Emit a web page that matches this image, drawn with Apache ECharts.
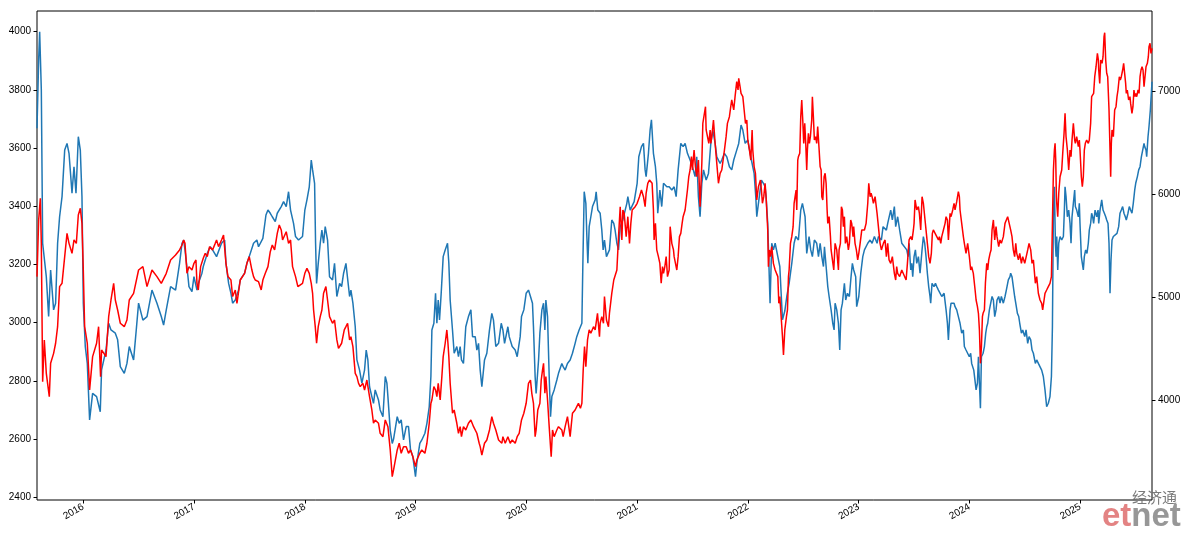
<!DOCTYPE html>
<html>
<head>
<meta charset="utf-8">
<script src="https://cdn.jsdelivr.net/npm/echarts@6/dist/echarts.min.js"></script>
<style>
html,body{margin:0;padding:0;background:#fff;}
#chart{width:1188px;height:535px;}
</style>
</head>
<body>
<div id="chart"></div>
<script>
// x values are dates expressed as decimal years
const yearTicks = [2016, 2017, 2018, 2019, 2020, 2021, 2022, 2023, 2024, 2025];
const leftTicks = [2400, 2600, 2800, 3000, 3200, 3400, 3600, 3800, 4000];
const rightTicks = [4000, 5000, 6000, 7000];

// blue series (left axis)
const blueT = [
2015.582,2015.597,2015.606,2015.621,2015.633,2015.666,2015.687,2015.705,2015.732,2015.750,2015.768,2015.786,2015.808,2015.832,2015.853,2015.871,2015.898,2015.916,2015.934,2015.955,2015.973,2015.988,
2016.000,2016.018,2016.036,2016.057,2016.084,2016.120,2016.153,2016.165,2016.205,2016.229,2016.250,2016.289,2016.310,2016.334,2016.370,2016.394,2016.415,2016.454,2016.478,2016.499,2016.538,2016.575,2016.620,2016.665,2016.704,2016.725,2016.749,2016.788,2016.833,2016.869,
2016.891,2016.906,2016.918,2016.945,2016.954,2016.981,2016.999,2017.026,2017.038,2017.071,2017.083,2017.119,2017.146,2017.167,2017.203,2017.236,2017.248,2017.276,2017.288,2017.312,2017.333,2017.348,2017.372,2017.402,2017.417,2017.456,2017.477,2017.498,2017.537,2017.567,2017.582,2017.621,2017.649,2017.667,2017.688,2017.706,2017.733,2017.751,2017.787,2017.808,2017.832,2017.853,2017.871,2017.898,2017.916,2017.943,2017.979,
2018.000,2018.019,2018.040,2018.058,2018.070,2018.088,2018.097,2018.106,2018.121,2018.139,2018.154,2018.169,
2018.184,2018.205,2018.223,2018.250,2018.268,2018.289,2018.314,2018.332,2018.350,2018.371,2018.386,2018.404,2018.416,2018.434,2018.455,2018.470,2018.494,2018.515,2018.539,2018.554,2018.569,2018.584,2018.605,2018.620,2018.635,2018.665,2018.680,2018.705,2018.726,2018.741,2018.750,2018.771,2018.789,2018.801,2018.834,2018.852,2018.870,2018.891,2018.915,2018.936,2018.954,2018.975,2018.999,
2019.011,2019.038,2019.056,2019.084,2019.102,2019.123,2019.138,2019.147,2019.165,2019.180,2019.192,2019.204,2019.216,2019.231,2019.249,2019.267,2019.288,2019.300,2019.312,2019.333,2019.348,2019.372,2019.387,2019.402,2019.414,2019.432,2019.453,2019.477,
2019.499,2019.514,2019.538,2019.553,2019.568,2019.583,2019.598,2019.622,2019.643,2019.667,2019.688,2019.703,2019.724,2019.749,2019.773,2019.788,2019.803,2019.833,2019.845,2019.872,2019.899,2019.917,2019.944,2019.956,2019.977,2019.998,
2020.019,2020.037,2020.055,2020.064,2020.079,2020.088,2020.110,2020.122,2020.140,2020.155,2020.167,2020.176,2020.191,2020.206,2020.218,2020.230,2020.251,2020.275,2020.290,2020.320,2020.332,2020.350,2020.371,2020.395,2020.416,2020.440,2020.455,2020.476,2020.501,2020.510,2020.522,2020.537,2020.546,2020.555,2020.567,2020.582,2020.597,2020.621,2020.630,2020.645,2020.666,2020.681,2020.693,2020.705,2020.723,2020.741,2020.750,2020.771,2020.789,
2020.801,2020.817,2020.832,2020.847,2020.871,2020.892,2020.907,2020.916,2020.937,2020.955,2020.973,
2021.000,2021.015,2021.039,2021.057,2021.072,2021.081,2021.102,2021.117,2021.129,2021.147,2021.165,2021.177,2021.186,2021.205,2021.222,2021.238,2021.250,2021.268,2021.289,2021.313,2021.334,2021.352,2021.370,2021.394,2021.415,2021.433,2021.454,2021.478,2021.499,2021.523,2021.538,2021.553,2021.568,2021.584,2021.599,2021.623,2021.644,2021.665,2021.683,2021.704,2021.719,2021.749,2021.764,2021.788,2021.809,2021.833,2021.854,2021.872,2021.899,2021.917,2021.938,2021.954,2021.975,2021.999,
2022.020,2022.038,2022.056,2022.071,2022.080,2022.095,
2022.122,2022.140,2022.155,2022.164,2022.179,2022.191,2022.200,2022.215,2022.230,2022.246,2022.270,2022.288,2022.300,2022.312,2022.333,2022.351,2022.372,2022.396,2022.417,2022.432,2022.456,2022.477,2022.492,2022.516,2022.531,2022.552,2022.567,2022.582,2022.600,2022.621,2022.637,2022.652,2022.667,2022.682,2022.691,2022.706,2022.721,2022.733,2022.751,2022.766,2022.778,2022.787,2022.802,2022.817,2022.829,2022.841,2022.853,2022.871,2022.883,2022.898,2022.916,2022.931,2022.943,2022.955,2022.973,2022.982,
2023.001,2023.019,2023.037,2023.052,2023.082,2023.103,2023.121,2023.142,2023.166,2023.178,2023.205,2023.220,2023.250,2023.262,2023.289,2023.304,2023.322,2023.334,2023.352,2023.370,2023.389,
2023.434,2023.446,2023.455,2023.470,2023.479,2023.488,2023.500,2023.512,2023.524,2023.539,2023.554,2023.572,2023.584,2023.596,2023.608,2023.620,2023.632,2023.644,2023.650,2023.662,2023.680,2023.693,2023.705,2023.720,2023.735,2023.750,2023.771,2023.789,2023.801,2023.810,2023.825,2023.834,2023.849,2023.861,2023.870,2023.885,2023.900,2023.915,2023.930,2023.945,2023.954,2023.969,2023.984,2023.999,
2024.011,2024.020,2024.039,2024.051,2024.060,2024.072,2024.081,2024.090,2024.099,2024.108,2024.123,2024.135,2024.147,2024.156,2024.165,2024.180,2024.192,2024.204,2024.216,2024.228,2024.240,2024.249,2024.264,2024.276,2024.288,2024.306,2024.321,2024.333,2024.351,2024.366,2024.372,2024.384,2024.396,2024.408,2024.418,2024.433,2024.445,2024.454,2024.469,2024.481,2024.499,2024.511,2024.526,2024.538,2024.553,2024.565,2024.577,2024.595,2024.607,2024.622,2024.637,2024.652,2024.667,2024.682,2024.697,2024.712,
2024.727,2024.740,2024.749,2024.758,2024.767,2024.776,2024.782,2024.788,2024.797,2024.806,2024.818,2024.833,2024.848,2024.857,2024.863,2024.872,2024.884,2024.896,2024.908,2024.917,2024.926,2024.938,2024.950,2024.956,2024.968,2024.983,2024.992,2024.998,
2025.010,2025.019,2025.028,2025.037,2025.049,2025.061,2025.073,2025.082,2025.094,2025.103,2025.112,2025.121,2025.134,2025.149,2025.161,2025.167,2025.179,2025.194,2025.206,2025.218,2025.230,2025.239,2025.251,2025.260,2025.269,2025.278,2025.287,2025.299,2025.314,2025.332,2025.347,2025.359,2025.371,2025.383,2025.395,2025.407,2025.416,2025.431,2025.443,2025.455,2025.467,2025.479,2025.492,2025.501,2025.516,2025.528,2025.540,2025.552,2025.564,2025.576,2025.582,2025.594,2025.600,2025.612,2025.621,2025.633,2025.642,2025.648
];
const blueV = [
3668,3903,4000,3800,3273,3158,3021,3181,3044,3067,3273,3364,3433,3593,3616,3582,3445,3536,3445,3639,3593,3433,
3067,2918,2860,2666,2757,2746,2694,2838,2906,2998,2975,2964,2941,2849,2826,2860,2918,2872,2975,3067,3009,3021,3112,3067,3021,2992,3044,3124,3112,3204,
3273,3284,3250,3158,3124,3107,3158,3112,3135,3170,3193,3238,3261,3250,3227,3261,3273,3284,3204,3135,3101,3067,3078,3112,3147,3170,3204,3227,3273,3284,3261,3290,3370,3387,3376,3364,3347,3376,3399,3416,3399,3450,3387,3341,3296,3284,3296,
3387,3422,3467,3559,3525,3479,3273,3135,3204,3273,3318,3273,
3330,3284,3158,3147,3204,3090,3135,3124,3170,3204,3204,3090,3112,3067,2986,2872,2837,2792,2837,2906,2872,2780,2746,2723,2769,2734,2700,2677,2815,2792,2746,2630,2585,2600,2677,2654,2666,2597,2643,2643,2563,2540,2471,
2517,2585,2597,2620,2654,2711,2815,2975,2998,3101,2998,3078,3009,3101,3227,3250,3273,3204,3078,2975,2895,2918,2883,2918,2872,2860,2986,3021,
3044,2952,2952,2906,2929,2837,2780,2872,2895,2975,3032,3009,2918,2929,2998,2975,2929,2986,2952,2918,2906,2883,2952,3021,3044,3101,
3112,3090,3067,2986,2815,2757,2872,2964,3044,3067,2975,3078,3021,2815,2677,2746,2769,2803,2826,2860,2849,2837,2860,2872,2895,2929,2952,2975,2998,3204,3450,3410,3296,3204,3330,3364,3399,3422,3450,3387,3376,3318,3250,3284,3227,3221,3250,3353,3341,
3318,3273,3250,3330,3353,3387,3410,3433,3387,3387,3416,
3479,3570,3605,3616,3525,3502,3582,3662,3697,3582,3536,3479,3376,3456,3399,3479,3479,3467,3467,3456,3467,3433,3525,3616,3605,3616,3582,3559,3536,3502,3570,3433,3364,3479,3525,3490,3513,3616,3662,3616,3570,3547,3559,3582,3570,3536,3525,3559,3593,3616,3679,3662,3616,3628,
3582,3547,3513,3433,3364,3410,
3490,3479,3467,3433,3341,3181,3067,3273,3250,3273,3227,3193,3101,3010,3040,3090,3135,3204,3273,3296,3284,3387,3410,3364,3238,3296,3250,3227,3284,3273,3227,3273,3227,3193,3261,3193,3124,3090,3044,2998,2975,3067,3044,2998,2906,3044,3067,3135,3078,3101,3090,3158,3204,3181,3158,3055,
3090,3170,3227,3250,3273,3284,3273,3296,3273,3296,3284,3330,3318,3341,3387,3353,3399,3330,3364,3318,3273,
3250,3227,3273,3181,3204,3158,3227,3250,3204,3227,3170,3250,3296,3273,3227,3170,3124,3090,3067,3135,3124,3135,3124,3112,3112,3090,3101,3044,2998,2941,3044,3067,3072,3067,3055,3044,3021,2998,2964,2975,2918,2906,2906,2883,
2895,2860,2837,2837,2769,2792,2883,2792,2706,2883,2895,2918,2964,2986,2998,3044,3067,3090,3078,3021,3044,3078,3090,3067,3090,3067,3090,3112,3147,3158,3170,3158,3124,3090,3067,3032,3021,2998,2964,2975,2952,2975,2929,2952,2941,2906,2895,2860,2872,2860,2860,2837,2815,2769,2711,2723,
2746,2815,2986,3387,3467,3273,3227,3296,3181,3273,3296,3284,3296,3387,3467,3433,3364,3387,3341,3273,3364,3410,3456,3399,3387,3364,3410,3341,
3227,3204,3181,3227,3250,3238,3273,3318,3341,3376,3364,3341,3387,3364,3387,3341,3387,3422,3387,3376,3364,3353,3341,3273,3101,3216,3284,3296,3296,3307,3330,3376,3387,3399,3376,3364,3353,3376,3399,3387,3376,3410,3456,3479,3502,3525,3536,3570,3593,3616,3605,3593,3570,3639,3674,3731,3788,3828
];

// red series (right axis)
const redT = [
2015.582,2015.597,2015.612,2015.621,2015.633,2015.648,2015.666,2015.693,2015.705,2015.732,2015.750,2015.768,2015.786,2015.808,2015.832,2015.853,2015.871,2015.898,2015.916,2015.937,2015.955,2015.973,2015.988,
2016.000,2016.012,2016.036,2016.057,2016.084,2016.120,2016.138,2016.156,2016.165,2016.205,2016.229,2016.250,2016.274,2016.289,2016.310,2016.334,2016.370,2016.394,2016.415,2016.454,2016.499,2016.538,2016.575,2016.620,2016.665,2016.704,2016.749,2016.788,2016.833,2016.869,
2016.891,2016.906,2016.918,2016.936,2016.954,2016.981,2016.999,2017.017,2017.026,2017.038,2017.059,2017.083,2017.101,2017.119,2017.140,2017.167,2017.191,2017.203,2017.221,2017.248,2017.266,2017.288,2017.306,2017.333,2017.348,2017.372,2017.387,2017.417,2017.456,2017.477,2017.498,2017.522,2017.537,2017.552,2017.582,2017.606,2017.621,2017.643,2017.667,2017.688,2017.706,2017.727,2017.751,2017.769,2017.787,2017.799,2017.832,2017.853,2017.871,2017.889,2017.916,2017.937,2017.955,2017.979,
2018.000,2018.019,2018.040,2018.058,2018.070,2018.079,2018.094,2018.106,2018.121,2018.139,2018.154,2018.169,
2018.190,2018.205,2018.223,2018.250,2018.268,2018.289,2018.304,2018.332,2018.356,2018.371,2018.386,2018.404,2018.416,2018.434,2018.455,2018.470,2018.485,2018.500,2018.524,2018.539,2018.560,2018.584,2018.605,2018.620,2018.635,2018.665,2018.680,2018.705,2018.726,2018.750,2018.771,2018.789,2018.801,2018.834,2018.852,2018.870,2018.891,2018.915,2018.936,2018.954,2018.975,2018.999,
2019.011,2019.038,2019.056,2019.084,2019.102,2019.123,2019.138,2019.147,2019.165,2019.180,2019.192,2019.204,2019.222,2019.237,2019.249,2019.267,2019.282,2019.292,2019.300,2019.312,2019.333,2019.348,2019.372,2019.387,2019.402,2019.414,2019.432,2019.453,2019.477,
2019.499,2019.523,2019.538,2019.553,2019.574,2019.583,2019.598,2019.622,2019.643,2019.667,2019.688,2019.703,2019.724,2019.749,2019.779,2019.788,2019.809,2019.833,2019.854,2019.872,2019.899,2019.917,2019.935,2019.956,2019.977,2019.998,
2020.019,2020.037,2020.049,2020.064,2020.079,2020.088,2020.103,2020.122,2020.134,2020.146,2020.155,2020.167,2020.176,2020.191,2020.206,2020.224,2020.236,2020.251,2020.275,2020.290,2020.320,2020.332,2020.350,2020.371,2020.395,2020.416,2020.440,2020.455,2020.470,2020.488,2020.501,2020.513,2020.525,2020.537,2020.552,2020.567,2020.582,2020.606,2020.621,2020.642,2020.660,2020.666,2020.681,2020.696,2020.705,2020.723,2020.741,2020.750,2020.771,2020.789,
2020.801,2020.817,2020.823,2020.832,2020.847,2020.862,2020.871,2020.883,2020.901,2020.916,2020.931,2020.943,2020.955,2020.973,2020.982,
2021.000,2021.021,2021.039,2021.057,2021.072,2021.081,2021.096,2021.111,2021.120,2021.135,2021.147,2021.153,2021.165,2021.177,2021.192,2021.205,2021.217,2021.229,2021.238,2021.250,2021.262,2021.274,2021.289,2021.298,2021.313,2021.328,2021.334,2021.346,2021.358,2021.370,2021.382,2021.394,2021.406,2021.415,2021.433,2021.454,2021.466,2021.478,2021.490,2021.499,2021.514,2021.526,2021.538,2021.553,2021.568,2021.584,2021.593,2021.608,2021.617,2021.623,2021.635,2021.647,2021.659,2021.665,2021.674,2021.689,2021.704,2021.719,2021.734,2021.749,2021.764,2021.788,2021.803,2021.815,2021.833,2021.845,2021.854,2021.872,2021.884,2021.899,2021.911,2021.917,2021.929,2021.938,2021.954,2021.966,2021.978,2021.990,2021.999,
2022.014,2022.026,2022.038,2022.044,2022.056,2022.068,2022.080,2022.095,
2022.113,2022.122,2022.131,2022.143,2022.155,2022.164,2022.179,2022.185,2022.194,2022.203,2022.215,2022.230,2022.246,2022.270,2022.279,2022.288,2022.300,2022.312,2022.321,2022.333,2022.348,2022.357,2022.366,2022.372,2022.384,2022.396,2022.408,2022.417,2022.426,2022.435,2022.441,2022.450,2022.456,2022.468,2022.477,2022.486,2022.495,2022.504,2022.513,2022.522,2022.531,2022.537,2022.546,2022.555,2022.564,2022.576,2022.582,2022.591,2022.600,2022.612,2022.621,2022.630,2022.643,2022.652,2022.661,2022.667,2022.676,2022.688,2022.697,2022.706,2022.715,2022.721,2022.733,2022.745,2022.751,2022.763,2022.775,2022.787,2022.802,2022.817,2022.823,2022.835,2022.844,2022.853,2022.862,2022.871,2022.880,2022.892,2022.907,2022.916,2022.928,2022.937,2022.949,2022.955,2022.967,2022.979,2022.991,
2023.001,2023.013,2023.028,2023.037,2023.052,2023.067,2023.082,2023.091,2023.103,2023.112,2023.121,2023.133,2023.148,2023.166,2023.178,2023.193,2023.205,2023.223,2023.238,2023.250,2023.262,2023.274,2023.289,2023.304,2023.322,2023.334,2023.343,2023.352,2023.370,2023.389,
2023.428,2023.440,2023.455,2023.470,2023.482,2023.494,2023.500,2023.509,2023.524,2023.539,2023.548,2023.560,2023.572,2023.584,2023.599,2023.614,2023.620,2023.632,2023.644,2023.656,2023.665,2023.674,2023.690,2023.705,2023.720,2023.729,2023.741,2023.750,2023.765,2023.780,2023.789,2023.801,2023.810,2023.825,2023.834,2023.849,2023.861,2023.870,2023.885,2023.900,2023.909,2023.915,2023.930,2023.945,2023.954,2023.969,2023.984,2023.999,
2024.011,2024.020,2024.035,2024.051,2024.060,2024.072,2024.081,2024.090,2024.099,2024.108,2024.117,2024.123,2024.135,2024.144,2024.156,2024.165,2024.174,2024.186,2024.195,2024.204,2024.216,2024.228,2024.240,2024.249,2024.264,2024.276,2024.288,2024.306,2024.321,2024.333,2024.345,2024.357,2024.372,2024.384,2024.396,2024.408,2024.418,2024.427,2024.442,2024.454,2024.469,2024.481,2024.499,2024.511,2024.526,2024.538,2024.553,2024.565,2024.577,2024.595,2024.607,2024.622,2024.637,2024.652,2024.661,2024.682,2024.697,2024.712,
2024.727,2024.740,2024.749,2024.758,2024.767,2024.773,2024.779,2024.785,2024.788,2024.797,2024.806,2024.818,2024.833,2024.842,2024.854,2024.863,2024.872,2024.884,2024.896,2024.908,2024.917,2024.926,2024.938,2024.950,2024.956,2024.968,2024.983,2024.992,2024.998,
2025.010,2025.019,2025.028,2025.037,2025.046,2025.058,2025.073,2025.082,2025.094,2025.103,2025.112,2025.121,2025.131,2025.143,2025.155,2025.164,2025.167,2025.176,2025.185,2025.197,2025.206,2025.215,2025.221,2025.230,2025.239,2025.248,2025.260,2025.269,2025.275,2025.281,2025.287,2025.299,2025.311,2025.323,2025.332,2025.341,2025.353,2025.362,2025.371,2025.383,2025.392,2025.401,2025.410,2025.416,2025.425,2025.437,2025.449,2025.455,2025.467,2025.476,2025.485,2025.494,2025.501,2025.510,2025.522,2025.531,2025.540,2025.549,2025.558,2025.567,2025.576,2025.582,2025.594,2025.606,2025.615,2025.621,2025.630,2025.639,2025.648
];
const redV = [
5198,5748,5958,5521,4178,4583,4259,4033,4356,4453,4551,4712,5101,5133,5392,5618,5521,5424,5554,5521,5796,5861,5715,
5262,4712,4551,4098,4421,4551,4712,4227,4486,4421,4809,4971,5133,4971,4874,4745,4712,4777,4971,5036,5262,5295,5101,5262,5198,5133,5230,5360,5408,5457,
5505,5554,5521,5230,5295,5262,5327,5360,5133,5068,5295,5376,5424,5392,5489,5457,5521,5554,5489,5554,5602,5327,5198,5165,5004,5068,4939,5165,5230,5327,5392,5262,5198,5165,5149,5068,5165,5230,5295,5440,5505,5457,5618,5699,5651,5554,5634,5521,5554,5295,5198,5101,5101,5133,
5230,5278,5230,5133,5036,4874,4712,4551,4712,4809,4874,5036,
5101,4971,4809,4745,4777,4583,4502,4551,4680,4712,4745,4583,4615,4518,4259,4227,4162,4130,4162,4097,4194,4033,3903,3774,3806,3774,3677,3644,3806,3741,3515,3256,3321,3515,3580,3483,3547,3547,3483,3515,3450,3353,
3418,3483,3515,3483,3580,3774,3968,4000,4130,4097,4033,4162,4000,4227,4421,4551,4680,4551,4421,4162,3871,3903,3774,3677,3741,3644,3741,3709,3774,
3806,3741,3741,3677,3580,3547,3466,3580,3612,3709,3838,3774,3709,3612,3580,3644,3580,3644,3580,3612,3580,3644,3677,3806,3871,3968,
4162,4194,4065,3968,3644,3709,3903,3968,4194,4292,4356,4065,4227,4000,3741,3450,3709,3644,3709,3741,3709,3644,3741,3838,3644,3871,3903,3936,3968,3919,3968,4292,4518,4324,4583,4680,4648,4712,4680,4842,4615,4745,4809,4745,5004,4777,4712,4842,5036,5165,
5165,5262,5392,5586,5877,5554,5845,5812,5586,5780,5521,5715,5845,5845,5877,
5910,5974,6039,5974,5877,6007,6104,6136,6120,6104,5845,5554,5715,5457,5392,5327,5133,5295,5230,5295,5392,5198,5262,5683,5521,5457,5392,5327,5262,5392,5586,5618,5715,5780,5845,6039,6168,6233,6363,6233,6427,6266,6168,6330,5877,6298,6686,6686,6848,6622,6557,6492,6622,6492,6557,6719,6492,6298,6104,6201,6233,6427,6557,6686,6751,6848,6913,6816,6945,7091,7010,7123,7042,6977,6945,6816,6686,6719,6524,
6427,6330,6622,6427,6266,6201,5942,6071,
6136,6039,5910,5974,6104,5974,5651,5295,5457,5392,5489,5327,5262,5198,4939,5004,4809,4615,4437,4680,4809,4874,5198,5262,5521,5586,5683,5910,5974,6039,5845,6330,6363,6395,6751,6913,6719,6492,6686,6492,6233,6427,6589,6492,6557,6719,6945,6751,6524,6557,6492,6654,6427,6266,6233,5974,5942,6168,6201,6104,5845,5715,5780,5586,5457,5360,5262,5521,5457,5262,5457,5521,5877,5845,5683,5780,5521,5586,5457,5521,5748,5715,5586,5683,5521,5457,5360,
5424,5521,5651,5667,5651,5715,5910,6104,5974,6007,5974,5910,5974,5812,5683,5521,5457,5521,5554,5392,5521,5360,5327,5392,5230,5165,5295,5230,5198,5262,
5165,5327,5554,5586,5554,5651,5715,5942,5845,5877,5812,5651,5974,5910,5748,5586,5521,5392,5327,5424,5618,5651,5618,5586,5554,5586,5521,5586,5651,5715,5780,5748,5554,5812,5780,5845,5910,5845,5926,6023,5974,5845,5715,5586,5521,5424,5521,5392,
5262,5295,5230,5068,4971,4906,4842,4680,4356,4518,4809,4842,4874,5133,5327,5262,5360,5424,5457,5651,5748,5554,5683,5586,5489,5554,5521,5586,5715,5748,5780,5796,5651,5586,5457,5392,5521,5424,5360,5424,5327,5392,5327,5327,5457,5521,5457,5327,5360,5133,5198,5036,4971,4939,4874,5036,5068,5101,
5133,5198,5715,6233,6427,6492,6330,5974,5910,5780,6007,6168,6233,6395,6589,6783,6557,6427,6233,6427,6363,6524,6686,6524,6492,6557,6460,6524,6427,
6168,6071,6168,6427,6492,6524,6492,6524,6686,6945,6945,6977,7139,7236,7366,7301,7204,7074,7301,7269,7333,7528,7566,7301,7172,7139,6816,6427,6168,6492,6622,6557,6816,6848,6945,7010,7139,7107,7139,7204,7269,7172,7074,6977,7010,6913,6945,6880,6783,6848,7010,6945,6977,6945,7010,6977,7139,7204,7236,7204,7042,7107,7236,7269,7333,7431,7463,7366,7414
];

const blueData = blueT.map((t, i) => [t, blueV[i]]);
const redData = redT.map((t, i) => [t, redV[i]]);

const chart = echarts.init(document.getElementById('chart'), null, {renderer: 'canvas'});
const labelFont = {fontSize: 10, color: '#000', fontFamily: 'Liberation Sans'};
const plain = v => String(v);
chart.setOption({
  animation: false,
  backgroundColor: '#fff',
  grid: {left: 37, right: 36, top: 11, bottom: 35, show: true, borderColor: '#000', borderWidth: 1, backgroundColor: 'transparent'},
  xAxis: {
    type: 'value', min: 2015.582, max: 2025.648,
    axisLine: {show: false},
    splitLine: {show: false},
    axisTick: {show: true, customValues: yearTicks, length: 3.5, lineStyle: {color: '#000', width: 1}},
    axisLabel: Object.assign({customValues: yearTicks, rotate: 30, margin: 6, formatter: plain}, labelFont)
  },
  yAxis: [
    {
      type: 'value', position: 'left', min: 2390.7, max: 4071,
      axisLine: {show: false}, splitLine: {show: false},
      axisTick: {show: true, customValues: leftTicks, length: 3.5, lineStyle: {color: '#000', width: 1}},
      axisLabel: Object.assign({customValues: leftTicks, margin: 6, formatter: plain}, labelFont)
    },
    {
      type: 'value', position: 'right', min: 3029, max: 7777,
      axisLine: {show: false}, splitLine: {show: false},
      axisTick: {show: true, customValues: rightTicks, length: 3.5, lineStyle: {color: '#000', width: 1}},
      axisLabel: Object.assign({customValues: rightTicks, margin: 6, formatter: plain}, labelFont)
    }
  ],
  series: [
    {type: 'line', name: 'blue', data: blueData, yAxisIndex: 0, showSymbol: false, symbol: 'none',
     lineStyle: {color: '#1f77b4', width: 1.5}, itemStyle: {color: '#1f77b4'}, z: 2},
    {type: 'line', name: 'red', data: redData, yAxisIndex: 1, showSymbol: false, symbol: 'none',
     lineStyle: {color: '#ff0000', width: 1.5}, itemStyle: {color: '#ff0000'}, z: 3}
  ],
  graphic: [
    {type: 'text', left: 1132, top: 490, z: 100,
     style: {text: '经济通', font: '15px "Noto Sans CJK SC"', fill: '#6b6b6b', opacity: 0.9}},
    {type: 'text', left: 1102, top: 500, z: 100,
     style: {rich: {a: {fill: '#e07575'}, b: {fill: '#8c8c8c'}}, text: '{a|et}{b|net}', font: 'bold 33px "Liberation Sans"', fontWeight: 'bold', fontSize: 33, fontFamily: 'Liberation Sans', opacity: 0.9}}
  ]
});
</script>
</body>
</html>
